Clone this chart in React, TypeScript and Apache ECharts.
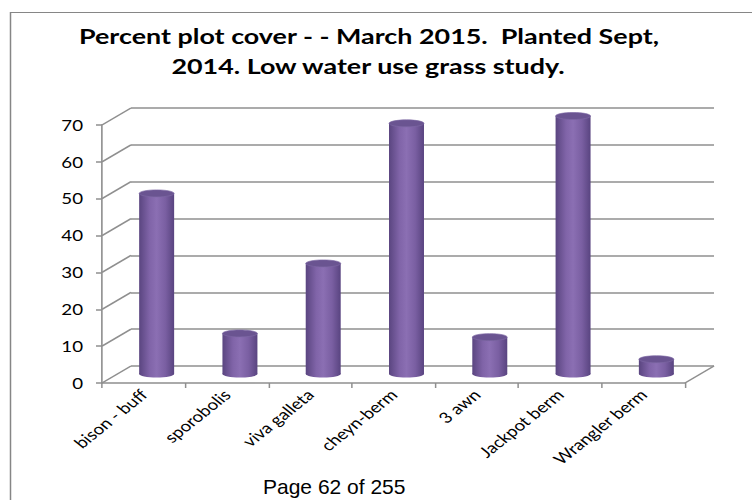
import React, { useEffect, useRef } from "react";
import * as echarts from "echarts";

const categories = [
  "bison - buff",
  "sporobolis",
  "viva galleta",
  "cheyn-berm",
  "3 awn",
  "Jackpot berm",
  "Wrangler berm",
];
const coverValues = [49, 11, 30, 68, 10, 70, 4];
const yTicks = [0, 10, 20, 30, 40, 50, 60, 70];
const titleLines = [
  "Percent plot cover - - March 2015.  Planted Sept,",
  "2014. Low water use grass study.",
];
const footerText = "Page 62 of 255";

const S = 1.25; // horizontal stretch of the original picture
const W = 752;
const H = 500;
const X = (x: number) => x / S;

export default function App() {
  const ref = useRef<HTMLDivElement>(null);
  useEffect(() => {
    const chart = echarts.init(ref.current!, null, { renderer: "svg" });
    const gridLeft = 102, gridTop = 125, gridW = 583, gridH = 258;
    const depthX = 29, depthY = -17;
    const barX = 13, barY = -9;
    const lineColor = "#8f8f8f";

    const hiddenX = (gi: number) => ({
      type: "category" as const, gridIndex: gi, data: categories, show: false, boundaryGap: true,
    });

    chart.setOption({
      animation: false,
      backgroundColor: "#ffffff",
      grid: [
        { left: X(gridLeft), top: gridTop, width: X(gridW), height: gridH, outerBoundsMode: "none" },
        { left: X(gridLeft + barX), top: gridTop + barY, width: X(gridW), height: gridH, outerBoundsMode: "none" },
        { left: X(gridLeft + depthX), top: gridTop + depthY, width: X(gridW), height: gridH, outerBoundsMode: "none" },
      ],
      xAxis: [
        {
          type: "category", gridIndex: 0, data: categories, boundaryGap: true,
          axisLine: { show: true, lineStyle: { color: lineColor, width: 1.5 } },
          axisTick: { show: true, interval: 0, length: 5, lineStyle: { color: lineColor, width: 1.2 } },
          axisLabel: { interval: 0, rotate: 45, margin: 9, fontFamily: "Lato", fontSize: 15, color: "#000" },
          splitLine: { show: false },
        },
        hiddenX(1),
        hiddenX(2),
      ],
      yAxis: [
        {
          type: "value", gridIndex: 0, min: 0, max: 70, interval: 10,
          axisLine: { show: true, lineStyle: { color: lineColor, width: 1.3 } },
          axisTick: { show: true, length: X(6), lineStyle: { color: lineColor, width: 1.5 } },
          axisLabel: { margin: X(19), fontFamily: "Lato", fontSize: 15, color: "#000" },
          splitLine: { show: false },
        },
        { type: "value", gridIndex: 1, min: 0, max: 70, interval: 10, show: false },
        {
          type: "value", gridIndex: 2, min: 0, max: 70, interval: 10,
          axisLine: { show: false }, axisTick: { show: false }, axisLabel: { show: false },
          splitLine: { show: true, lineStyle: { color: lineColor, width: 1.6 } },
        },
      ],
      series: [
        {
          type: "custom",
          xAxisIndex: 0,
          yAxisIndex: 0,
          z: 1,
          silent: true,
          data: yTicks.map((v) => [0, v]),
          renderItem: (params: any, api: any) => {
            const v = api.value(1);
            const y = api.coord([0, v])[1];
            const cs = params.coordSys;
            const children: any[] = [
              {
                type: "line",
                shape: { x1: cs.x, y1: y, x2: cs.x + X(depthX), y2: y + depthY },
                style: { stroke: lineColor, lineWidth: 1.5 },
              },
            ];
            if (v === 0) {
              children.push({
                type: "line",
                shape: { x1: cs.x + cs.width, y1: y, x2: cs.x + cs.width + X(depthX), y2: y + depthY },
                style: { stroke: lineColor, lineWidth: 1.5 },
              });
            }
            return { type: "group", children };
          },
        },
        {
          type: "custom",
          xAxisIndex: 1,
          yAxisIndex: 1,
          z: 5,
          data: coverValues.map((v, i) => [i, v]),
          renderItem: (params: any, api: any) => {
            const i = api.value(0);
            const v = api.value(1);
            const top = api.coord([i, v]);
            const base = api.coord([i, 0]);
            const w = api.size([1, 0])[0] * 0.42;
            const rx = w / 2;
            const ry = 3.5;
            const cx = top[0];
            const grad = () =>
              new echarts.graphic.LinearGradient(0, 0, 1, 0, [
                { offset: 0, color: "#5a4580" },
                { offset: 0.3, color: "#8064a8" },
                { offset: 0.5, color: "#8b6fb3" },
                { offset: 0.75, color: "#7a5fa2" },
                { offset: 1, color: "#594480" },
              ]);
            return {
              type: "group",
              children: [
                { type: "ellipse", shape: { cx, cy: base[1], rx, ry }, style: { fill: grad() } },
                { type: "rect", shape: { x: cx - rx, y: top[1], width: w, height: base[1] - top[1] }, style: { fill: grad() } },
                { type: "ellipse", shape: { cx, cy: top[1], rx, ry }, style: { fill: "#6a5491", stroke: "#7e68a4", lineWidth: 0.6 } },
              ],
            };
          },
        },
      ],
      graphic: [
        {
          type: "rect",
          silent: true,
          z: -1,
          shape: { x: X(10.5), y: 12.5, width: 1000, height: 1000 },
          style: { fill: "transparent", stroke: "#868686", lineWidth: 1.2 },
        },
        {
          type: "text",
          x: X(369),
          y: 36,
          style: { text: titleLines[0], font: "bold 21.5px Lato", fill: "#000", align: "center", verticalAlign: "middle" },
        },
        {
          type: "text",
          x: X(368),
          y: 66,
          style: { text: titleLines[1], font: "bold 21.5px Lato", fill: "#000", align: "center", verticalAlign: "middle" },
        },
        {
          type: "text",
          x: X(263),
          y: 486,
          scaleX: 1 / S,
          style: { text: footerText, font: '21px "Liberation Sans"', fill: "#000", align: "left", verticalAlign: "middle" },
        },
      ],
    });
    return () => chart.dispose();
  }, []);

  return (
    <div style={{ position: "fixed", left: 0, top: 0, width: W, height: H, overflow: "hidden", background: "#fff" }}>
      <div
        ref={ref}
        style={{ width: W / S, height: H, transform: `scaleX(${S})`, transformOrigin: "0 0" }}
      />
    </div>
  );
}
